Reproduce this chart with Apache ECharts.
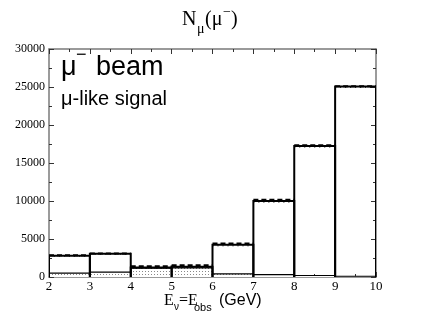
<!DOCTYPE html>
<html>
<head>
<meta charset="utf-8">
<script src="https://cdn.jsdelivr.net/npm/echarts@6/dist/echarts.min.js"></script>
<style>
  html, body { margin: 0; padding: 0; background: #fff; }
  #chart { width: 423px; height: 327px; }
</style>
</head>
<body>
<div id="chart"></div>
<script>
// bin edges (GeV) and contents
const binEdges = [2, 3, 4, 5, 6, 7, 8, 9, 10];
const signal = [2800, 3050, 1250, 1350, 4250, 10000, 17250, 25050];
const signalUp = [2850, 3100, 1400, 1550, 4400, 10150, 17350, 25100];
const signalDown = [2750, 3000, 1150, 1250, 4100, 9850, 17100, 24950];
const background = [500, 650, 1150, 1200, 400, 300, 200, 100];
const xTicks = [2, 3, 4, 5, 6, 7, 8, 9, 10];
const yTicks = [0, 5000, 10000, 15000, 20000, 25000, 30000];

const toBins = (vals) => vals.map((v, i) => [binEdges[i], binEdges[i + 1], v]);

// dotted fill pattern
const pat = document.createElement('canvas');
pat.width = 3; pat.height = 3;
const pctx = pat.getContext('2d');
pctx.fillStyle = '#fff';
pctx.fillRect(0, 0, 3, 3);
pctx.fillStyle = '#888';
pctx.fillRect(1, 1, 1, 1);

const chart = echarts.init(document.getElementById('chart'), null, { renderer: 'canvas' });

function boxRender(styleFn) {
  return function (params, api) {
    const p0 = api.coord([api.value(0), 0]);
    const p1 = api.coord([api.value(0), api.value(2)]);
    const p2 = api.coord([api.value(1), api.value(2)]);
    const p3 = api.coord([api.value(1), 0]);
    return styleFn(p0, p1, p2, p3);
  };
}

const axisColor = '#7a7a7a';
const serif = '"Liberation Serif", "DejaVu Serif", serif';
const sans = '"Liberation Sans", Arial, sans-serif';

function xAx(pos, labels) {
  return {
    type: 'value', position: pos, min: 2, max: 10, interval: 1,
    axisLine: { show: true, onZero: false, lineStyle: { color: axisColor, width: 1.5 } },
    axisTick: { show: true, inside: true, length: 5, lineStyle: { color: '#333' } },
    minorTick: { show: true, splitNumber: 2, length: 3, lineStyle: { color: '#333' } },
    splitLine: { show: false },
    axisLabel: {
      show: labels, color: '#000', fontFamily: serif, fontSize: 13, margin: 3,
      customValues: xTicks, formatter: (v) => String(v)
    }
  };
}
function yAx(pos, labels) {
  return {
    type: 'value', position: pos, min: 0, max: 30000, interval: 5000,
    axisLine: { show: true, onZero: false, lineStyle: { color: axisColor, width: 1.5 } },
    axisTick: { show: true, inside: true, length: 5, lineStyle: { color: '#333' } },
    minorTick: { show: true, splitNumber: 2, length: 3, lineStyle: { color: '#333' } },
    splitLine: { show: false },
    axisLabel: {
      show: labels, color: '#000', fontFamily: serif, fontSize: 12, margin: 4,
      customValues: yTicks, formatter: (v) => String(v)
    }
  };
}

const option = {
  animation: false,
  backgroundColor: '#fff',
  grid: { left: 49, right: 47, top: 49, bottom: 50 },
  xAxis: [xAx('bottom', true), xAx('top', false)],
  yAxis: [yAx('left', true), yAx('right', false)],
  series: [
    {
      type: 'custom', name: 'background', clip: true, z: 2,
      data: toBins(background),
      renderItem: boxRender((p0, p1, p2, p3) => ({
        type: 'group', children: [
          { type: 'rect', shape: { x: p1[0], y: p1[1], width: p2[0] - p1[0], height: p0[1] - p1[1] },
            style: { fill: { image: pat, repeat: 'repeat' }, stroke: null } },
          { type: 'polyline', shape: { points: [p0, p1, p2, p3] },
            style: { fill: null, stroke: '#000', lineWidth: 1.2 } }
        ]
      }))
    },
    {
      type: 'custom', name: 'signal', clip: true, z: 3,
      data: toBins(signal),
      renderItem: boxRender((p0, p1, p2, p3) => ({
        type: 'polyline', shape: { points: [p0, p1, p2, p3] },
        style: { fill: null, stroke: '#000', lineWidth: 2 }
      }))
    },
    {
      type: 'custom', name: 'up', clip: true, z: 3,
      data: toBins(signalUp),
      renderItem: boxRender((p0, p1, p2, p3) => ({
        type: 'line', shape: { x1: p1[0], y1: p1[1], x2: p2[0], y2: p2[1] },
        style: { stroke: '#000', lineWidth: 2, lineDash: [5, 3] }
      }))
    },
    {
      type: 'custom', name: 'down', clip: true, z: 3,
      data: toBins(signalDown),
      renderItem: boxRender((p0, p1, p2, p3) => ({
        type: 'line', shape: { x1: p1[0], y1: p1[1], x2: p2[0], y2: p2[1] },
        style: { stroke: '#000', lineWidth: 1, lineDash: [1, 4] }
      }))
    }
  ],
  graphic: [
    // title N_mu(mu-)
    { type: 'text', left: 182, top: 10, style: { text: 'N', font: '20px ' + serif, fill: '#000' } },
    { type: 'text', left: 197, top: 22, style: { text: 'μ', font: '14px ' + serif, fill: '#000' } },
    { type: 'text', left: 205, top: 10, style: { text: '(μ', font: '20px ' + serif, fill: '#000' } },
    { type: 'text', left: 223, top: 5, style: { text: '−', font: '14px ' + serif, fill: '#000' } },
    { type: 'text', left: 231, top: 10, style: { text: ')', font: '20px ' + serif, fill: '#000' } },
    // legend labels
    { type: 'text', left: 61, top: 54, style: { text: 'μ', font: '27px ' + sans, fill: '#000' } },
    { type: 'text', left: 76, top: 46, style: { text: '−', font: '18px ' + sans, fill: '#000' } },
    { type: 'text', left: 96, top: 54, style: { text: 'beam', font: '27px ' + sans, fill: '#000' } },
    { type: 'text', left: 61, top: 89, style: { text: 'μ-like signal', font: '20px ' + sans, fill: '#000' } },
    // x axis title
    { type: 'text', left: 164, top: 293, style: { text: 'E', font: '16px ' + serif, fill: '#000' } },
    { type: 'text', left: 174, top: 302, style: { text: 'ν', font: '10px ' + sans, fill: '#000' } },
    { type: 'text', left: 179, top: 293, style: { text: '=E', font: '16px ' + serif, fill: '#000' } },
    { type: 'text', left: 194, top: 302, style: { text: 'obs', font: '11px ' + sans, fill: '#000' } },
    { type: 'text', left: 219, top: 293, style: { text: '(GeV)', font: '16px ' + sans, fill: '#000' } }
  ]
};
chart.setOption(option);
</script>
</body>
</html>
